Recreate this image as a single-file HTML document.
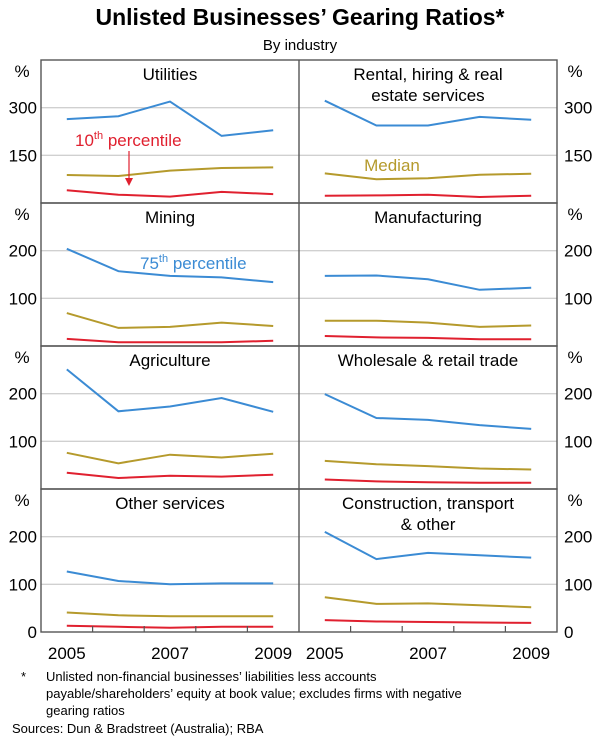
<!DOCTYPE html>
<html><head><meta charset="utf-8"><style>
body{margin:0;background:#fff;font-family:"Liberation Sans",Arial,sans-serif;}
svg{display:block}
</style></head><body>
<svg id="c" width="600" height="742" viewBox="0 0 600 742" xmlns="http://www.w3.org/2000/svg" font-family="Liberation Sans, Arial, sans-serif">
<text x="300" y="25" text-anchor="middle" font-size="23" font-weight="bold" fill="#000">Unlisted Businesses’ Gearing Ratios*</text>
<text x="300" y="50" text-anchor="middle" font-size="15" fill="#000">By industry</text>
<g id="plots"></g>
<text x="21" y="681" font-size="13" fill="#000">*</text>
<text x="46" y="681" font-size="13" fill="#000">Unlisted non-financial businesses’ liabilities less accounts</text>
<text x="46" y="698" font-size="13" fill="#000">payable/shareholders’ equity at book value; excludes firms with negative</text>
<text x="46" y="715" font-size="13" fill="#000">gearing ratios</text>
<text x="12" y="733" font-size="13" fill="#000">Sources: Dun &amp; Bradstreet (Australia); RBA</text>
</svg>
<script>
const years = ["2005","2006","2007","2008","2009"];
const panelTitles = [["Utilities"],["Rental, hiring & real","estate services"],["Mining"],["Manufacturing"],["Agriculture"],["Wholesale & retail trade"],["Other services"],["Construction, transport","& other"]];
const p75 = [[264,273,319,211,229],[322,244,244,271,262],[204,157,147,144,134],[147,148,140,118,122],[251,163,173,191,162],[199,149,145,134,126],[127,107,100,102,102],[210,153,166,161,156]];
const median = [[88,85,102,110,112],[93,75,78,89,92],[69,38,40,49,42],[53,53,49,40,43],[76,54,72,66,74],[59,52,48,43,41],[41,35,33,33,33],[73,59,60,56,52]];
const p10 = [[40,26,20,35,28],[23,24,26,19,23],[15,8,8,8,11],[21,18,17,14,14],[34,23,28,26,30],[20,16,14,13,13],[13,11,9,11,11],[25,22,21,20,19]];
const rowMax = [450,300,300,300];
const rowTicks = [[150,300],[100,200],[100,200],[0,100,200]];

const NS="http://www.w3.org/2000/svg";
const g=document.getElementById('plots');
function el(t,a,txt){const e=document.createElementNS(NS,t);for(const k in a)e.setAttribute(k,a[k]);if(txt!==undefined)e.textContent=txt;g.appendChild(e);return e;}
const X0=41,XM=299,X1=557,ROW0=60,RH=143;
const colors={p75:"#3b8bd4",median:"#b59a2c",p10:"#e0202f"};
for(let r=0;r<4;r++){
  const top=ROW0+r*RH,bot=top+RH;
  const y=v=>bot-v/rowMax[r]*RH;
  rowTicks[r].forEach(t=>{
    if(t>0){
      const gl=el('line',{x1:X0,x2:X1,y1:y(t),y2:y(t),stroke:"#d0d0d0","stroke-width":1.3});
      
      
    }
    const l=el('text',{x:37,y:y(t)+6,"text-anchor":"end","font-size":17,fill:"#000"},t);
    
    
    const rr=el('text',{x:564,y:y(t)+6,"font-size":17,fill:"#000"},t);
    
    
  });
  const pl=el('text',{x:22,y:top+17,"text-anchor":"middle","font-size":17},"%");
  
  
  const pr=el('text',{x:575,y:top+17,"text-anchor":"middle","font-size":17},"%");
  
  
  for(let c=0;c<2;c++){
    const i=r*2+c;
    const xl=c?XM:X0,xr=c?X1:XM,bw=(xr-xl)/5;
    const x=k=>xl+bw*(k+0.5);
    panelTitles[i].forEach((s,j)=>{
      const t=el('text',{x:(xl+xr)/2,y:top+20+j*21,"text-anchor":"middle","font-size":17},s);
      
      
    });
    [["p75",p75],["median",median],["p10",p10]].forEach(([n,arr])=>{
      const pts=arr[i].map((v,k)=>x(k).toFixed(1)+","+y(v).toFixed(1)).join(" ");
      const p=el('polyline',{points:pts,fill:"none",stroke:colors[n],"stroke-width":2});
      
      
    });
    if(r===3){
      for(let k=1;k<5;k++){
        const tk=el('line',{x1:xl+bw*k,x2:xl+bw*k,y1:bot,y2:bot-6,stroke:"#555","stroke-width":1.2});
        
        
      }
      years.forEach((yr,k)=>{
        if(k%2===0){
          const t=el('text',{x:x(k),y:bot+27,"text-anchor":"middle","font-size":17},yr);
          
          
        }
      });
    }
  }
  const fr=el('rect',{x:X0,y:top,width:X1-X0,height:RH,fill:"none",stroke:"#555","stroke-width":1.4});
  
  
}
const mid=el('line',{x1:XM,x2:XM,y1:ROW0,y2:ROW0+4*RH,stroke:"#555","stroke-width":1.4});


const a1=el('text',{x:75,y:146,"font-size":17,fill:"#e0202f"},"");


a1.innerHTML='10<tspan dy="-7" font-size="11">th</tspan><tspan dy="7"> percentile</tspan>';
const ar=el('line',{x1:129,x2:129,y1:151,y2:182,stroke:"#e0202f","stroke-width":1.2});


const ah=el('polygon',{points:"125,178 133,178 129,186",fill:"#e0202f"});


const a2=el('text',{x:392,y:171,"text-anchor":"middle","font-size":17,fill:"#b59a2c"},"Median");


const a3=el('text',{x:140,y:269,"font-size":17,fill:"#3b8bd4"},"");


a3.innerHTML='75<tspan dy="-7" font-size="11">th</tspan><tspan dy="7"> percentile</tspan>';
</script>
</body></html>
